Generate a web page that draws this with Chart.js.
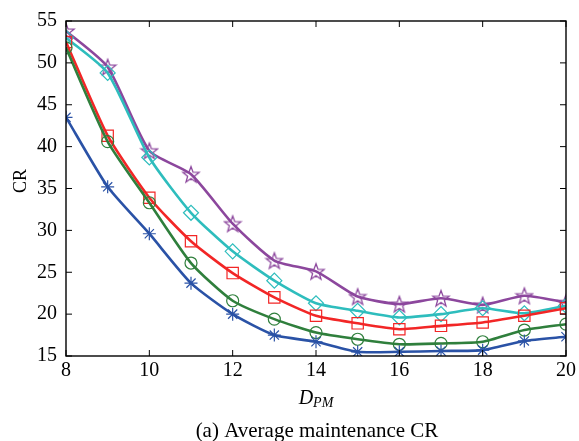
<!DOCTYPE html>
<html lang="en">
<head>
    <meta charset="UTF-8">
    <title>Average maintenance CR</title>
    <style>
        body { margin: 0; background: #fff; }
        #wrap { width: 579px; height: 441px; }
    </style>
</head>
<body>
    <div id="wrap"><canvas id="chart-cr" width="579" height="441"></canvas></div>

    <script src="https://cdn.jsdelivr.net/npm/chart.js"></script>
    <script>
        // D_PM values on the x axis
        const dpm = [8, 9, 10, 11, 12, 13, 14, 15, 16, 17, 18, 19, 20];
        const xTicks = [8, 10, 12, 14, 16, 18, 20];
        const yTicks = [15, 20, 25, 30, 35, 40, 45, 50, 55];

        // CR, one array per curve
        const crAsterisk = [43.5, 35.2, 29.6, 23.7, 20.0, 17.5, 16.7, 15.5, 15.5, 15.6, 15.7, 16.8, 17.3];
        const crCircle   = [51.8, 40.6, 33.3, 26.1, 21.6, 19.4, 17.8, 17.0, 16.4, 16.5, 16.7, 18.1, 18.8];
        const crSquare   = [52.5, 41.3, 33.9, 28.7, 24.9, 22.0, 19.8, 18.9, 18.2, 18.6, 19.0, 19.8, 20.7];
        const crDiamond  = [53.0, 48.8, 38.7, 32.1, 27.5, 24.0, 21.3, 20.4, 19.6, 20.0, 20.7, 20.1, 21.0];
        const crStar     = [53.8, 49.5, 39.5, 36.7, 30.8, 26.4, 25.1, 22.1, 21.2, 21.9, 21.1, 22.2, 21.4];

        const serif = "'Liberation Serif', 'DejaVu Serif', serif";

        // five-pointed star marker (Chart.js only has the asterisk one)
        function pentagram(color) {
            const c = document.createElement('canvas');
            c.width = 20; c.height = 20;
            const g = c.getContext('2d');
            g.strokeStyle = color;
            g.lineWidth = 1.3;
            g.beginPath();
            for (let i = 0; i < 10; i++) {
                const r = i % 2 === 0 ? 8.5 : 3.5;
                const a = -Math.PI / 2 + i * Math.PI / 5;
                const px = 10 + r * Math.cos(a), py = 10.8 + r * Math.sin(a);
                if (i === 0) g.moveTo(px, py); else g.lineTo(px, py);
            }
            g.closePath();
            g.stroke();
            return c;
        }

        function pts(ys) {
            return dpm.map((x, i) => ({ x: x, y: ys[i] }));
        }

        function serie(ys, color, style, radius) {
            return {
                data: pts(ys),
                borderColor: color,
                backgroundColor: 'rgba(0,0,0,0)',
                pointBorderColor: color,
                pointBackgroundColor: 'rgba(0,0,0,0)',
                pointStyle: style,
                pointRadius: radius,
                pointBorderWidth: 1.2,
                borderWidth: 2.6,
                tension: 0.2
            };
        }

        // box around the plot, inward ticks, axis title and caption
        const moldura = {
            id: 'moldura',
            afterDraw(chart) {
                const ctx = chart.ctx;
                const a = chart.chartArea;
                const sx = chart.scales.x, sy = chart.scales.y;
                ctx.save();
                ctx.strokeStyle = '#000';
                ctx.lineWidth = 1.4;
                ctx.strokeRect(a.left, a.top, a.right - a.left, a.bottom - a.top);
                ctx.lineWidth = 1;
                ctx.beginPath();
                xTicks.forEach(v => {
                    const px = sx.getPixelForValue(v);
                    ctx.moveTo(px, a.bottom); ctx.lineTo(px, a.bottom - 6);
                    ctx.moveTo(px, a.top); ctx.lineTo(px, a.top + 6);
                });
                yTicks.forEach(v => {
                    const py = sy.getPixelForValue(v);
                    ctx.moveTo(a.left, py); ctx.lineTo(a.left + 6, py);
                    ctx.moveTo(a.right, py); ctx.lineTo(a.right - 6, py);
                });
                ctx.stroke();

                ctx.fillStyle = '#000';
                ctx.textBaseline = 'alphabetic';
                const cx = (a.left + a.right) / 2;
                // D_PM
                ctx.font = 'italic 20px ' + serif;
                const wD = ctx.measureText('D').width;
                ctx.font = 'italic 14px ' + serif;
                const wPM = ctx.measureText('PM').width;
                const x0 = cx - (wD + wPM) / 2;
                ctx.font = 'italic 20px ' + serif;
                ctx.textAlign = 'left';
                ctx.fillText('D', x0, 404);
                ctx.font = 'italic 14px ' + serif;
                ctx.fillText('PM', x0 + wD, 407);
                // caption
                ctx.font = '21px ' + serif;
                ctx.textAlign = 'center';
                ctx.fillText('(a) Average maintenance CR', cx + 1, 437);
                // y title
                ctx.translate(21, 181);
                ctx.rotate(-Math.PI / 2);
                ctx.font = '18px ' + serif;
                ctx.textBaseline = 'middle';
                ctx.fillText('CR', 0, 0);
                ctx.restore();
            }
        };

        new Chart(document.getElementById('chart-cr'), {
            type: 'line',
            data: {
                datasets: [
                    serie(crAsterisk, '#2a52a6', 'star', 6.5),
                    serie(crCircle, '#2f7f3c', 'circle', 6),
                    serie(crSquare, '#f22626', 'rect', 8),
                    serie(crDiamond, '#2ebdbd', 'rectRot', 7.5),
                    serie(crStar, '#8c479d', pentagram('#8c479d'), 9)
                ]
            },
            options: {
                responsive: false,
                animation: false,
                layout: { padding: { top: 12, right: 13, left: 0, bottom: 0 } },
                plugins: { legend: { display: false }, tooltip: { enabled: false } },
                scales: {
                    x: {
                        type: 'linear',
                        min: 8,
                        max: 20,
                        afterFit(s) { s.height = 85; },
                        afterBuildTicks(s) { s.ticks = xTicks.map(v => ({ value: v })); },
                        grid: { display: false, drawTicks: false },
                        border: { display: false },
                        ticks: { color: '#000', padding: 3, maxRotation: 0, font: { family: serif, size: 20 } }
                    },
                    y: {
                        min: 15,
                        max: 55,
                        afterFit(s) { s.width = 66; },
                        afterBuildTicks(s) { s.ticks = yTicks.map(v => ({ value: v })); },
                        grid: { display: false, drawTicks: false },
                        border: { display: false },
                        ticks: { color: '#000', padding: 9, font: { family: serif, size: 20 } }
                    }
                }
            },
            plugins: [moldura]
        });
    </script>
</body>
</html>
